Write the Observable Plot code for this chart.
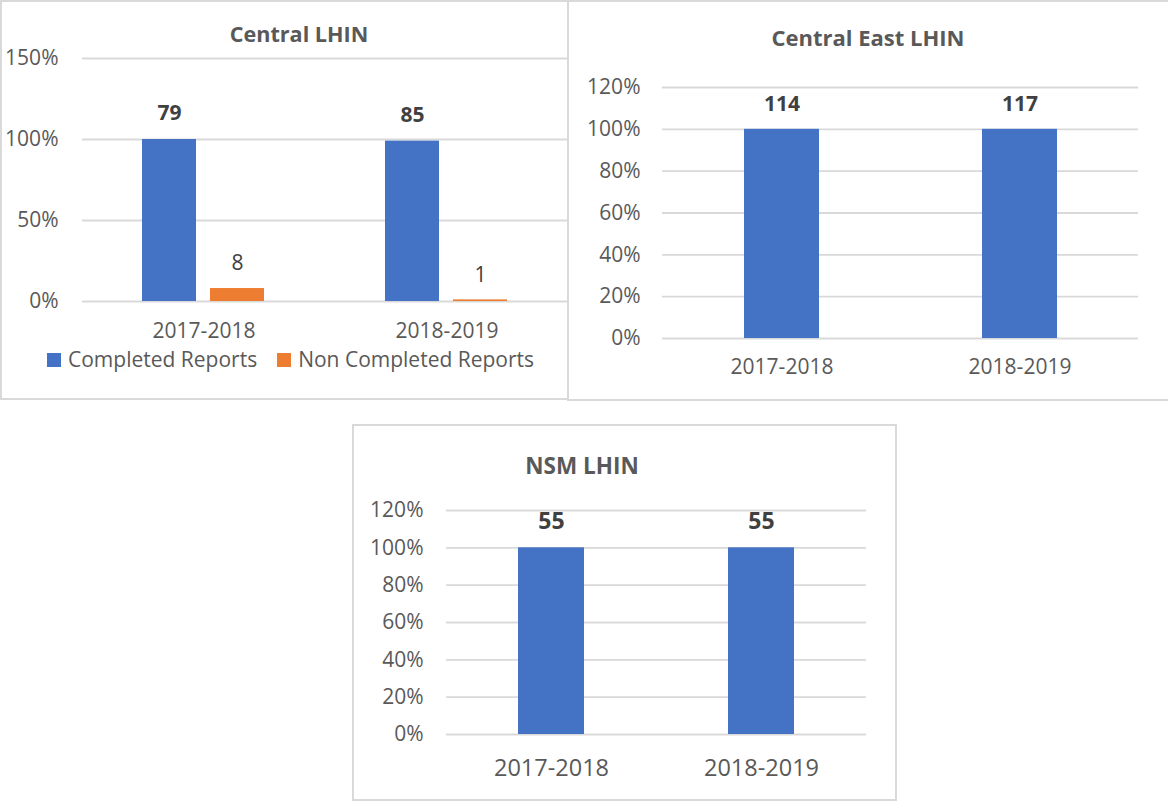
<!DOCTYPE html>
<html><head><meta charset="utf-8">
<script src="https://cdn.jsdelivr.net/npm/d3@7"></script>
<script src="https://cdn.jsdelivr.net/npm/@observablehq/plot@0.6"></script>
<style>
body{margin:0;background:#fff;font-family:"Open Sans",sans-serif;}
#root{position:relative;width:1168px;height:801px;overflow:hidden;background:#fff;}
.panel{position:absolute;border:2px solid #d9d9d9;box-sizing:border-box;background:#fff;}
.title{position:absolute;font-weight:bold;color:#595959;white-space:nowrap;transform:translate(-50%,-50%);line-height:1;}
.plot{position:absolute;}
.legend{position:absolute;font-size:21px;color:#595959;white-space:nowrap;display:flex;align-items:center;line-height:1;}
.sw{display:inline-block;width:14px;height:14px;margin-right:7px;}
</style></head>
<body><div id="root"></div>
<script>
// ---- data ----
const years = ["2017-2018", "2018-2019"];
const seriesNames = ["Completed Reports", "Non Completed Reports"];
const seriesColors = ["#4472C4", "#ED7D31"];
// Central LHIN
const centralCompletedPct = [1.00, 0.99];
const centralCompletedCount = [79, 85];
const centralNonCompletedPct = [0.08, 0.01];
const centralNonCompletedCount = [8, 1];
const centralTicks = [0, 0.5, 1.0, 1.5];
// Central East LHIN
const centralEastPct = [1.00, 1.00];
const centralEastCount = [114, 117];
// NSM LHIN
const nsmPct = [1.00, 1.00];
const nsmCount = [55, 55];
const pctTicks = [0, 0.2, 0.4, 0.6, 0.8, 1.0, 1.2];
const titles = ["Central LHIN", "Central East LHIN", "NSM LHIN"];

const root = document.getElementById("root");
const FONT = "'Open Sans', sans-serif";
const TEXT = "#595959", LABEL = "#404040", GRID = "#d9d9d9";
const fmt = d3.format(".0%");

function addPanel(l, t, w, h) {
  const d = document.createElement("div");
  d.className = "panel";
  Object.assign(d.style, {left: l + "px", top: t + "px", width: w + "px", height: h + "px"});
  root.appendChild(d);
}
function addTitle(text, cx, cy, size) {
  const d = document.createElement("div");
  d.className = "title";
  d.textContent = text;
  Object.assign(d.style, {left: cx + "px", top: cy + "px", fontSize: size + "px"});
  root.appendChild(d);
}
function place(svg, l, t) {
  svg.classList.add("plot");
  svg.style.left = l + "px";
  svg.style.top = t + "px";
  root.appendChild(svg);
}
const style = {fontFamily: FONT, fontSize: "21px", color: TEXT, background: "transparent", overflow: "visible"};

// panels (borders)
addPanel(0, 0, 569, 400);
addPanel(567, 0, 603, 401);
addPanel(352, 424, 545, 377);

// ---- Panel 1: Central LHIN (grouped bars) ----
const central = [];
years.forEach((y, i) => {
  central.push({year: y, series: seriesNames[0], value: centralCompletedPct[i], count: centralCompletedCount[i]});
  central.push({year: y, series: seriesNames[1], value: centralNonCompletedPct[i], count: centralNonCompletedCount[i]});
});
const p1 = Plot.plot({
  width: 568, height: 345,
  marginLeft: 81, marginRight: 0, marginTop: 58, marginBottom: 44,
  style,
  fx: {domain: years, padding: 0},
  x: {domain: seriesNames, paddingInner: 0.203, paddingOuter: 0.87, axis: null},
  y: {domain: [0, 1.5]},
  color: {domain: seriesNames, range: seriesColors},
  marks: [
    Plot.gridY(centralTicks, {stroke: GRID, strokeOpacity: 1, strokeWidth: 1.8}),
    Plot.barY(central, {fx: "year", x: "series", y: "value", fill: "series"}),
    Plot.text(central.filter(d => d.series === seriesNames[0]), {fx: "year", x: "series", y: "value", text: "count", dy: -26, fontWeight: "bold", fill: LABEL, fontSize: 21}),
    Plot.text(central.filter(d => d.series === seriesNames[1]), {fx: "year", x: "series", y: "value", text: "count", dy: -25, fill: LABEL, fontSize: 21}),
    Plot.axisY({ticks: centralTicks, tickFormat: fmt, tickSize: 0, tickPadding: 24, label: null, fontSize: 21}),
    Plot.axisFx({anchor: "bottom", tickSize: 0, tickPadding: 22, label: null, fontSize: 21})
  ]
});
place(p1, 0, 0);
addTitle(titles[0], 299, 34, 21.6);
// legend
const leg = document.createElement("div");
leg.className = "legend";
Object.assign(leg.style, {left: "47px", top: "349px"});
leg.innerHTML = seriesNames.map((s, i) =>
  `<span style="display:inline-flex;align-items:center;margin-right:${i === 0 ? 20 : 0}px"><span class="sw" style="background:${seriesColors[i]}"></span>${s}</span>`).join("");
root.appendChild(leg);

// ---- Panel 2: Central East LHIN ----
const ce = years.map((y, i) => ({year: y, value: centralEastPct[i], count: centralEastCount[i]}));
const p2 = Plot.plot({
  width: 600, height: 380,
  marginLeft: 94, marginRight: 30, marginTop: 87, marginBottom: 42,
  style,
  x: {domain: years, paddingInner: 0.685, paddingOuter: 0.3425},
  y: {domain: [0, 1.2]},
  marks: [
    Plot.gridY(pctTicks, {stroke: GRID, strokeOpacity: 1, strokeWidth: 1.8}),
    Plot.barY(ce, {x: "year", y: "value", fill: seriesColors[0]}),
    Plot.text(ce, {x: "year", y: "value", text: "count", dy: -25, fontWeight: "bold", fill: LABEL, fontSize: 21}),
    Plot.axisY({ticks: pctTicks, tickFormat: fmt, tickSize: 0, tickPadding: 22, label: null, fontSize: 21}),
    Plot.axisX({tickSize: 0, tickPadding: 21, label: null, fontSize: 21})
  ]
});
place(p2, 568, 0);
addTitle(titles[1], 868, 37, 22);

// ---- Panel 3: NSM LHIN ----
const nsm = years.map((y, i) => ({year: y, value: nsmPct[i], count: nsmCount[i]}));
const p3 = Plot.plot({
  width: 544, height: 376,
  marginLeft: 94, marginRight: 30, marginTop: 86, marginBottom: 66,
  style,
  x: {domain: years, paddingInner: 0.686, paddingOuter: 0.343},
  y: {domain: [0, 1.2]},
  marks: [
    Plot.gridY(pctTicks, {stroke: GRID, strokeOpacity: 1, strokeWidth: 1.8}),
    Plot.barY(nsm, {x: "year", y: "value", fill: seriesColors[0]}),
    Plot.text(nsm, {x: "year", y: "value", text: "count", dy: -26, fontWeight: "bold", fill: LABEL, fontSize: 23}),
    Plot.axisY({ticks: pctTicks, tickFormat: fmt, tickSize: 0, tickPadding: 23, label: null, fontSize: 21}),
    Plot.axisX({tickSize: 0, tickPadding: 25, label: null, fontSize: 23.5})
  ]
});
place(p3, 352, 424);
addTitle(titles[2], 582, 466, 22.5);
</script>
</body></html>
